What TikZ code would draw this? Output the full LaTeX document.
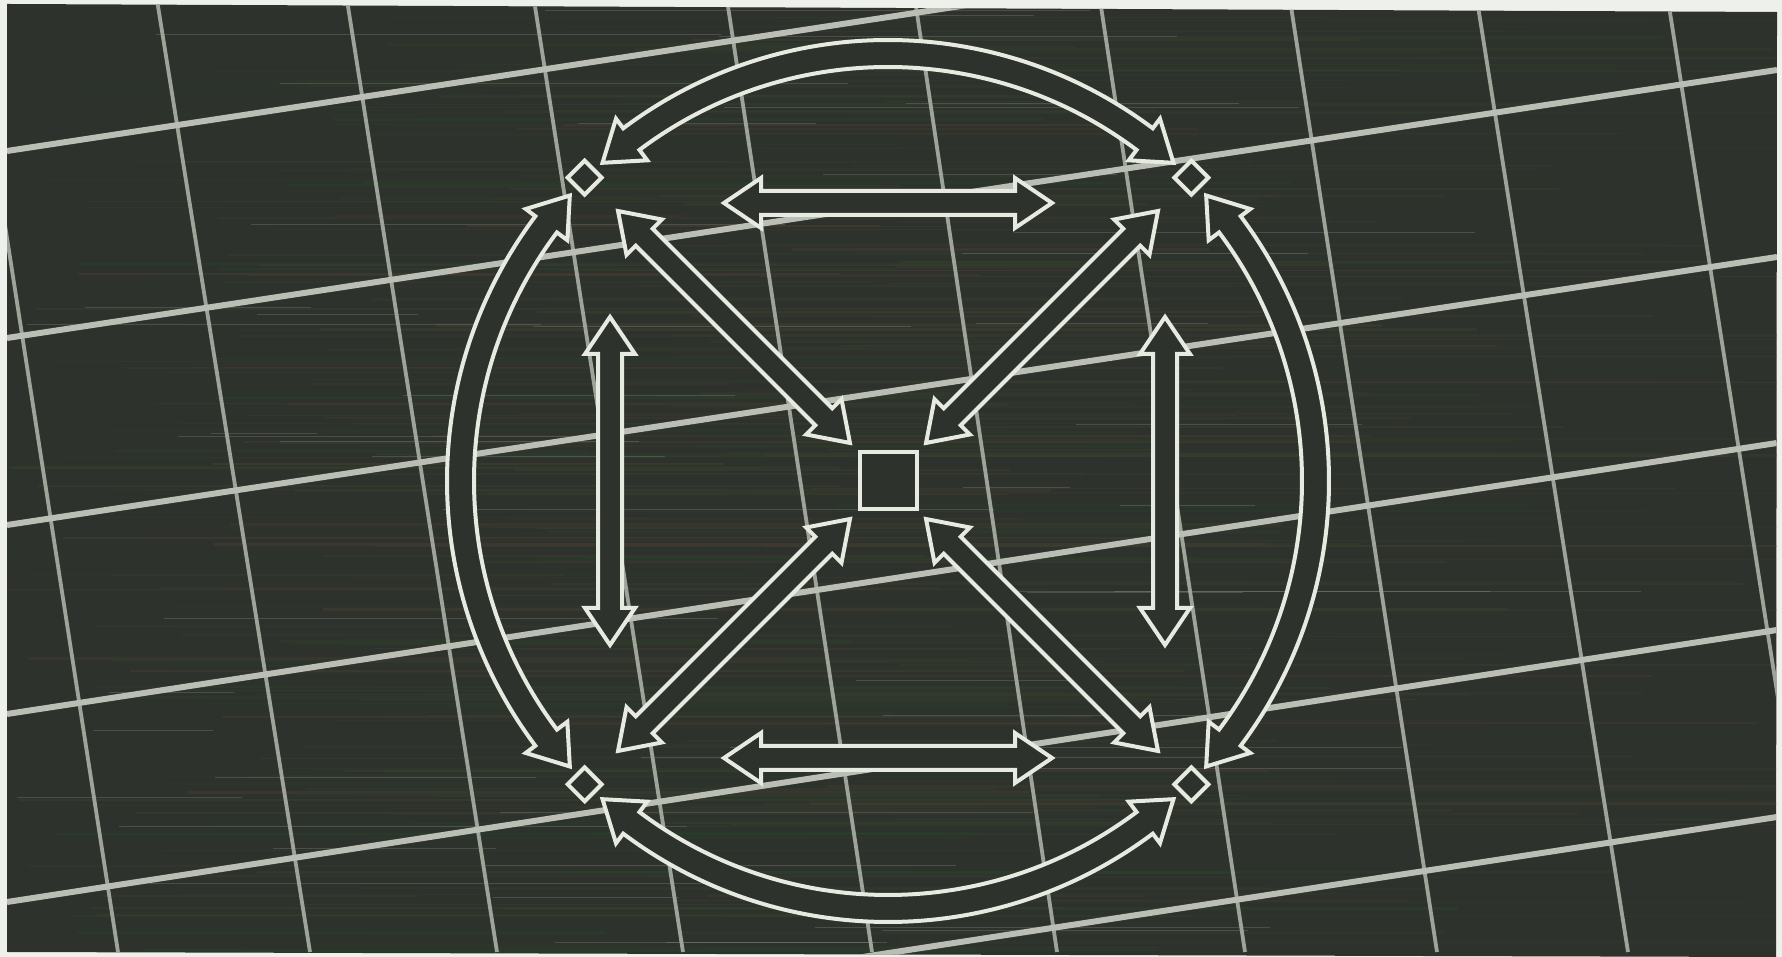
\documentclass[tikz,border=0pt]{standalone}
\usetikzlibrary{calc}
\definecolor{bg}{RGB}{46,50,44}
\definecolor{paper}{RGB}{238,240,236}
\definecolor{gridH}{RGB}{186,190,181}
\definecolor{gridV}{RGB}{158,164,154}
\definecolor{ink}{RGB}{230,234,224}
\definecolor{streakA}{RGB}{34,66,40}
\definecolor{streakB}{RGB}{74,60,52}
\begin{document}
\begin{tikzpicture}[x=0.5pt,y=0.5pt,
  gridh/.style={gridH, line width=3pt},
  gridv/.style={gridV, line width=1.9pt},
  shapeline/.style={draw=ink, fill=bg, line width=2pt, line join=miter, miter limit=10},
  dmd/.style={shapeline, rectangle, rotate=45, minimum size=12pt, inner sep=0pt},
  hub/.style={shapeline, rectangle, minimum size=28.5pt, inner sep=0pt},
  dblarrow/.pic={\path[shapeline] (-164,0) -- (-127,25) -- (-127,12) -- (127,12) -- (127,25) -- (164,0) -- (127,-25) -- (127,-12) -- (-127,-12) -- (-127,-25) -- cycle;},
  arcarrow/.pic={\path[shapeline] (131.9:427.5) -- (126.9:453) -- (126.9:441) arc[start angle=126.9, end angle=53.1, radius=220.5pt] -- (53.1:453) -- (48.1:427.5) -- (53.1:401) -- (53.1:414) arc[start angle=53.1, end angle=126.9, radius=207pt] -- (126.9:401) -- cycle;}
]
\useasboundingbox (0,0) rectangle (1782,957);
\fill[paper] (0,0) rectangle (1782,957);
\fill[bg] (7,953) -- (1777,945) -- (1776,0) -- (7,5) -- cycle;
\begin{scope}
  \clip (7,953) -- (1777,945) -- (1776,0) -- (7,5) -- cycle;
  % scan streaks
  \pgfmathsetseed{7}
  \foreach \i in {1,...,360}{
    \pgfmathsetmacro\yy{5+947*rnd}
    \pgfmathsetmacro\ww{0.3+1.1*rnd}
    \pgfmathsetmacro\op{0.2+0.4*rnd}
    \pgfmathtruncatemacro\pp{100*rnd}
    \pgfmathsetmacro\xa{7+900*rnd}
    \pgfmathsetmacro\xb{\xa+300+900*rnd}
    \draw[color=streakA!\pp!streakB, line width=\ww pt, opacity=\op] (\xa,\yy) -- (\xb,\yy);
  }
  \foreach \i in {1,...,50}{
    \pgfmathsetmacro\yy{5+947*rnd}
    \pgfmathsetmacro\xa{7+1200*rnd}
    \pgfmathsetmacro\xb{\xa+100+500*rnd}
    \draw[white, line width=0.4pt, opacity=0.14] (\xa,\yy) -- (\xb,\yy);
  }
  % grid
  \draw[gridv] (-30,957) -- (118,5);
  \draw[gridv] (157,957) -- (310,5);
  \draw[gridv] (347,957) -- (497,5);
  \draw[gridv] (534,957) -- (683,5);
  \draw[gridv] (727,957) -- (872,5);
  \draw[gridv] (915,957) -- (1057,5);
  \draw[gridv] (1100,957) -- (1245,5);
  \draw[gridv] (1290,957) -- (1437,5);
  \draw[gridv] (1477,957) -- (1628,5);
  \draw[gridv] (1668,957) -- (1818,5);
  \draw[gridh] (7,806) -- (1777,1075);
  \draw[gridh] (7,619) -- (1777,887);
  \draw[gridh] (7,432) -- (1777,700);
  \draw[gridh] (7,243) -- (1777,514);
  \draw[gridh] (7,55) -- (1777,327);
  \draw[gridh] (7,-131) -- (1777,140);
\end{scope}
% diagram
\coordinate (c) at (888,476);
\node[hub] (hub) at (c) {};
\node[dmd] (d1) at ($(c)+(45:429)$) {};
\node[dmd] (d2) at ($(c)+(135:429)$) {};
\node[dmd] (d3) at ($(c)+(225:429)$) {};
\node[dmd] (d4) at ($(c)+(315:429)$) {};
% curved arrows between corner diamonds
\pic at (c) {arcarrow};
\pic[rotate=-90] at (c) {arcarrow};
\pic[rotate=180] at (c) {arcarrow};
\pic[rotate=90] at (c) {arcarrow};
% straight arrows along the sides
\pic at ($(c)+(0,278)$) {dblarrow};
\pic at ($(c)+(0,-277)$) {dblarrow};
\pic[rotate=90] at ($(c)+(-278,0)$) {dblarrow};
\pic[rotate=90] at ($(c)+(277,0)$) {dblarrow};
% diagonal arrows to the hub
\pic[rotate=-45] at ($(c)+(-154,154)$) {dblarrow};
\pic[rotate=45] at ($(c)+(154,154)$) {dblarrow};
\pic[rotate=45] at ($(c)+(-154,-154)$) {dblarrow};
\pic[rotate=-45] at ($(c)+(154,-154)$) {dblarrow};
\end{tikzpicture}
\end{document}
